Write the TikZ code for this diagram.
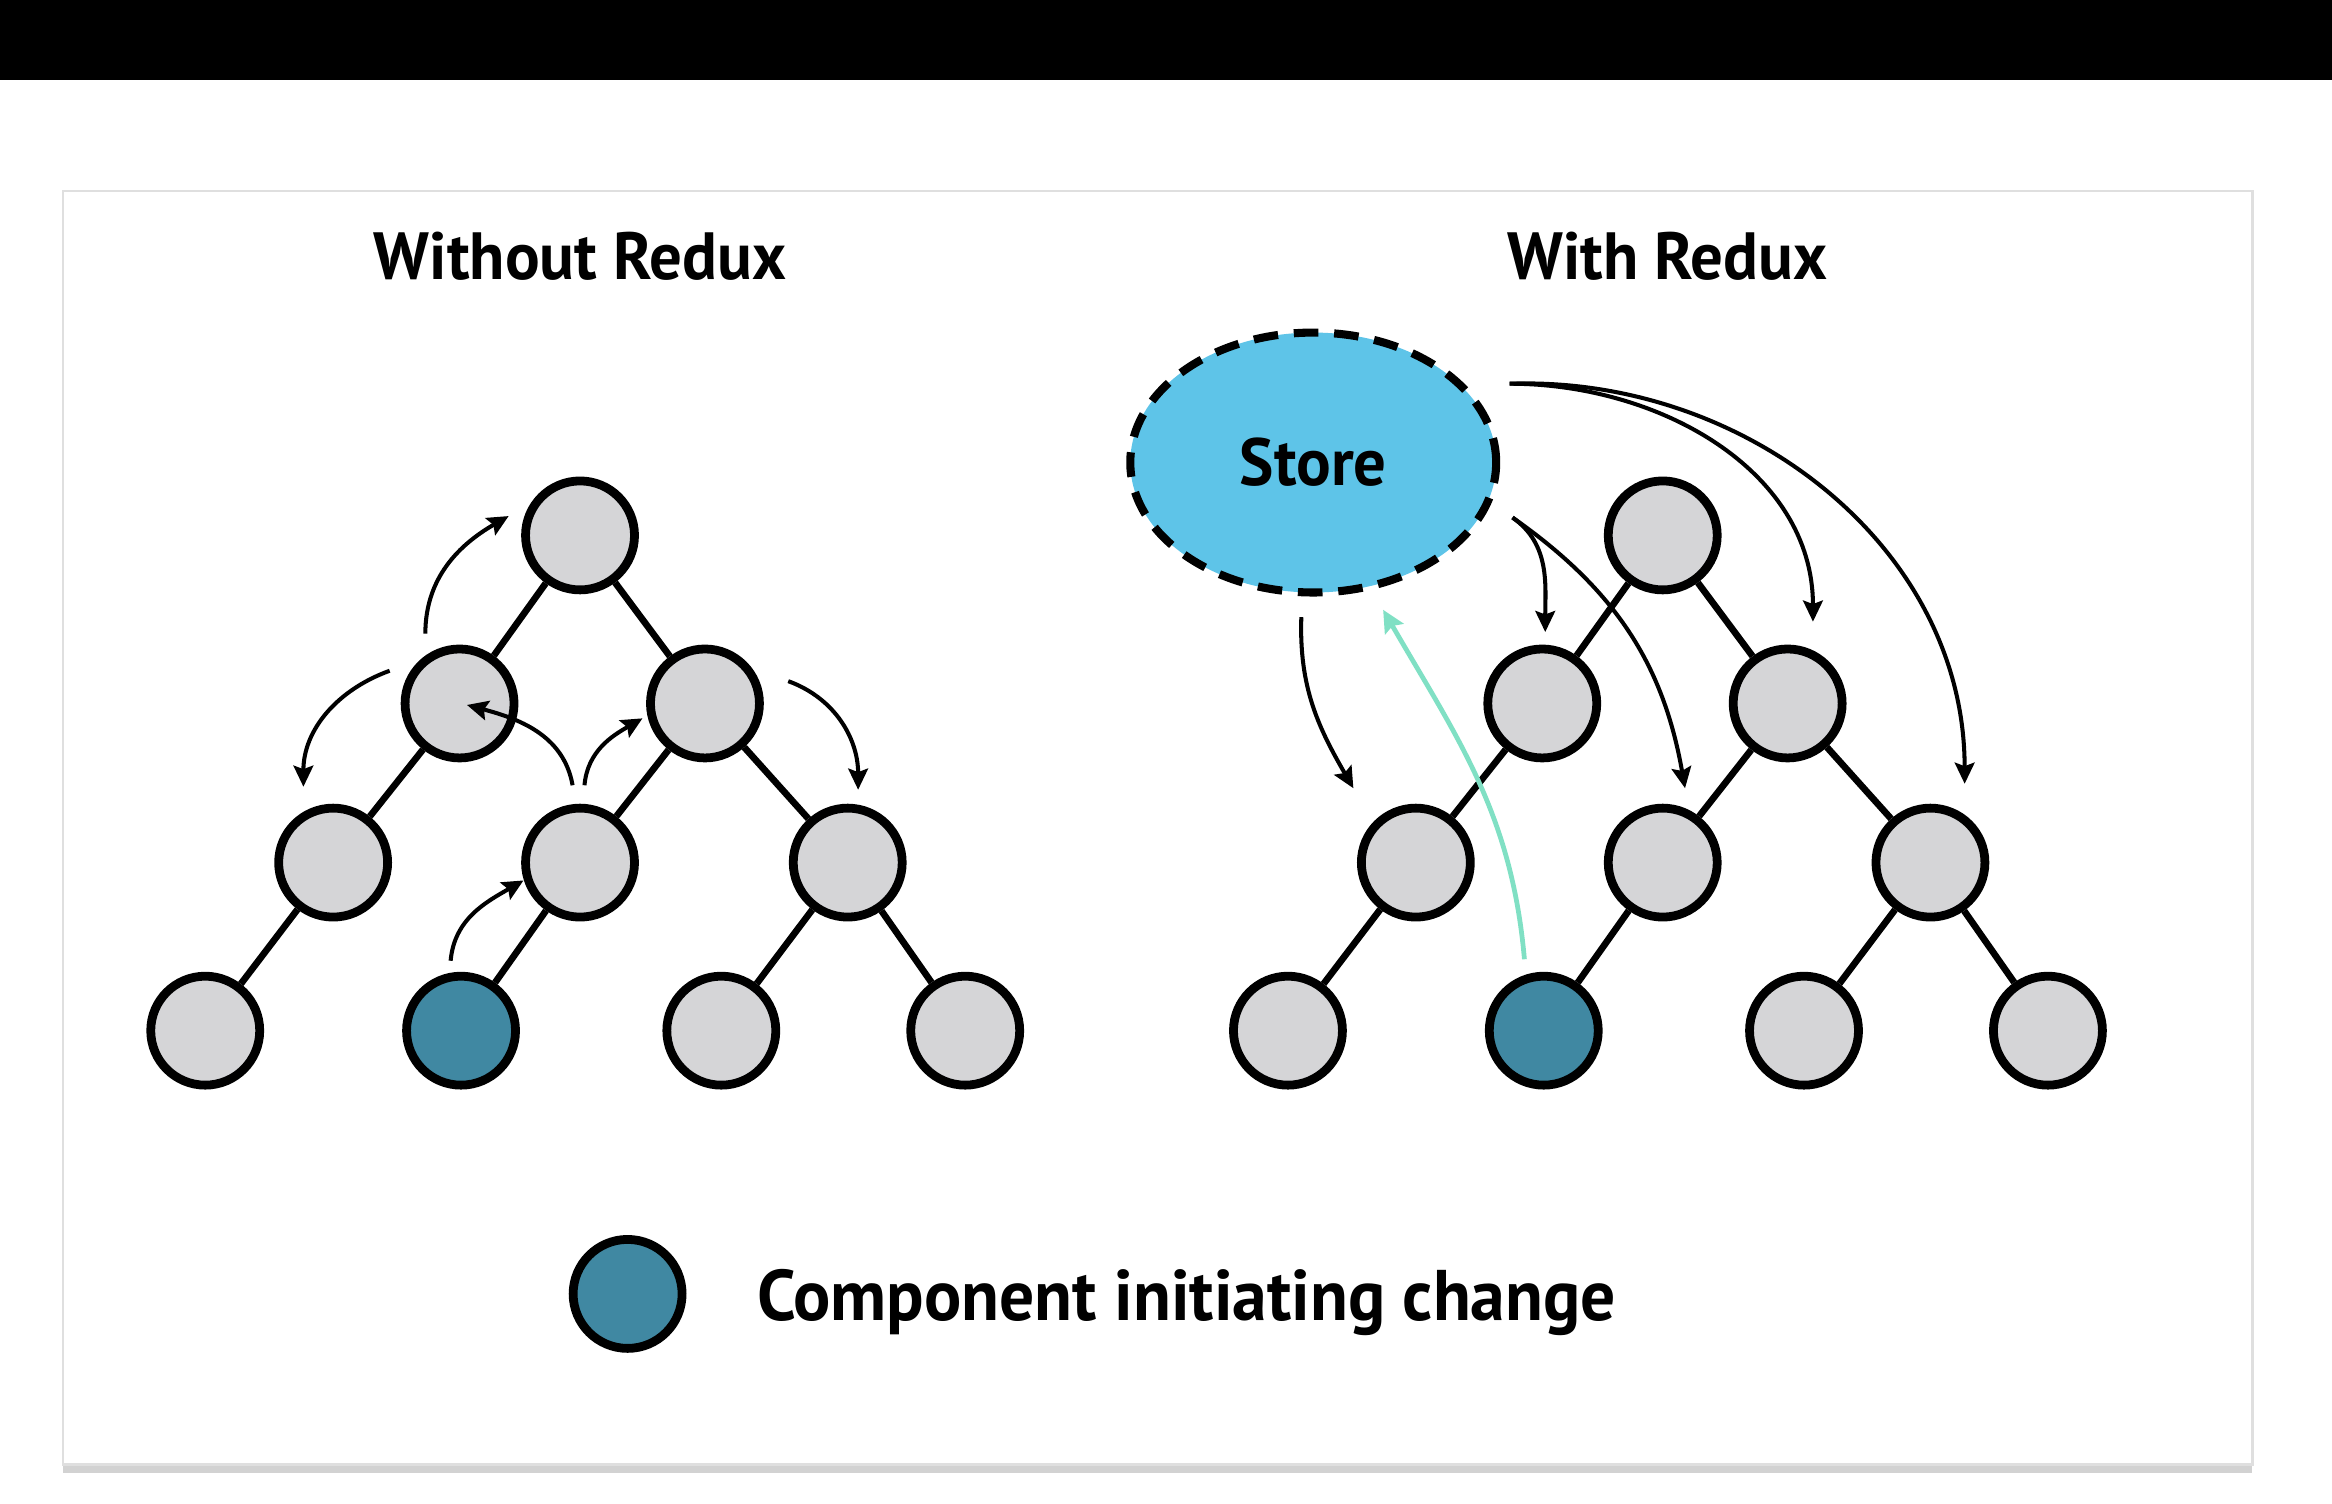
\documentclass[tikz,border=0pt]{standalone}
\usepackage{fontspec}
\setmainfont{PT Sans}[FakeStretch=0.97]
\usetikzlibrary{arrows.meta, calc, shapes.geometric, shadows, positioning}

\definecolor{compgray}{HTML}{D5D5D7}
\definecolor{initteal}{HTML}{4088A2}
\definecolor{storeblue}{HTML}{5EC4E8}
\definecolor{mint}{HTML}{80E0C4}

\begin{document}
\begin{tikzpicture}[
    x=0.014872cm, y=0.014872cm,
    every node/.style={font=\bfseries},
    comp/.style={circle, draw=black, fill=#1, line width=2.5pt,
        minimum size=1.09cm, inner sep=0pt},
    comp/.default=compgray,
    link/.style={line width=1.9pt},
    flow/.style={-{Stealth[length=6pt, width=5.6pt, inset=1pt]}, line width=1.15pt},
    change/.style={-{Stealth[length=6.3pt, width=6pt, inset=1pt]}, line width=1.35pt, color=mint},
    store/.style={ellipse, draw=black, fill=storeblue, line width=2.3pt,
        dash pattern=on 7pt off 4.5pt, minimum width=3.66cm, minimum height=2.6cm,
        inner sep=0pt, font=\fontsize{19}{22}\selectfont\bfseries},
    title/.style={font=\fontsize{19}{22}\selectfont\bfseries, inner sep=0pt, anchor=base},
    legend/.style={font=\fontsize{20.4}{24}\selectfont\bfseries, inner sep=0pt},
    card/.style={rectangle, draw=gray!25, fill=white, line width=0.6pt,
        minimum width=21.9cm, minimum height=12.74cm,
        drop shadow={shadow xshift=0pt, shadow yshift=-2.5pt, fill=gray!70, opacity=0.5}},
]

% --- Frame ---
\useasboundingbox (0,0) rectangle (1568,-1011);
\fill[white] (0,0) rectangle (1568,-1011);
\fill[black] (0,0) rectangle (1568,-54);
\node[card] (card) at (778.5,-556.5) {};

% --- Titles ---
\node[title] (noredux) at (390,-188) {Without Redux};
\node[title] (redux) at (1121,-188) {With Redux};

% --- Component trees ---
\foreach \t/\dx in {L/0, R/728} {
  \begin{scope}[shift={(\dx,0)}]
    \node[comp] (\t0) at (390,-360) {};
    \node[comp] (\t1a) at (309,-473) {};
    \node[comp] (\t1b) at (474,-473) {};
    \node[comp] (\t2a) at (224,-580) {};
    \node[comp] (\t2b) at (390,-580) {};
    \node[comp] (\t2c) at (570,-580) {};
    \node[comp] (\t3a) at (138,-693) {};
    \node[comp=initteal] (\t3b) at (310,-693) {};
    \node[comp] (\t3c) at (485,-693) {};
    \node[comp] (\t3d) at (649,-693) {};
    \foreach \up/\down in {0/1a, 0/1b, 1a/2a, 1b/2b, 1b/2c, 2a/3a, 2b/3b, 2c/3c, 2c/3d}
      \draw[link] (\t\up) -- (\t\down);
  \end{scope}
}

% --- Store ---
\node[store] (store) at (883,-311) {Store};

% --- Arrows without Redux ---
\draw[flow] ($(L1a)+(-23,47)$) to[out=90, in=210] ($(L0)+(-48,13)$);
\draw[flow] ($(L1a)+(-47,22)$) to[out=200, in=90] ($(L2a)+(-20,51)$);
\draw[flow] ($(L2b)+(-5,52)$) to[out=100, in=-15] ($(L1a)+(5,-1)$);
\draw[flow] ($(L2b)+(3,52)$) to[out=85, in=210] ($(L1b)+(-42,-10)$);
\draw[flow] ($(L1b)+(56,15)$) to[out=-20, in=90] ($(L2c)+(7,49)$);
\draw[flow] ($(L3b)+(-7,47)$) to[out=85, in=210] ($(L2b)+(-38,-12)$);

% --- Arrows with Redux ---
\draw[flow] ($(store)+(132,53)$) to[out=0, in=90] ($(R1b)+(17,55)$);
\draw[flow] ($(store)+(132,53)$) to[out=2, in=90] ($(R2c)+(23,53)$);
\draw[flow] ($(store)+(134,-37)$) to[out=-35, in=90] ($(R1a)+(2,48)$);
\draw[flow] ($(store)+(134,-37)$) to[out=-35, in=100] ($(R2b)+(15,50)$);
\draw[flow] ($(store)+(-8,-104)$) to[out=-92, in=120] ($(R2a)+(-42,50)$);
\draw[change] ($(R3b)+(-13,48)$) to[out=95, in=-60] ($(store)+(47,-99)$);

% --- Legend ---
\node[comp=initteal] (legdot) at (422,-870) {};
\node[legend, anchor=base west] (legtext) at ($(legdot.east)+(47,-18)$) {Component initiating change};

\end{tikzpicture}
\end{document}
